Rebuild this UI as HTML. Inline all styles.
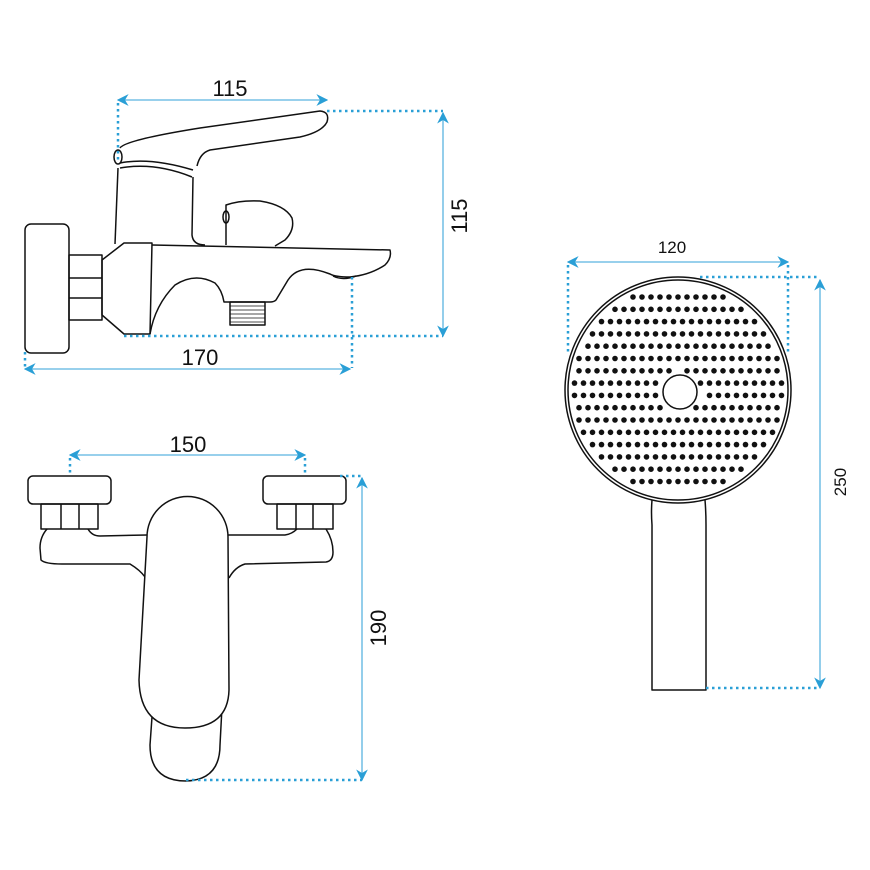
<!DOCTYPE html>
<html><head><meta charset="utf-8"><style>
html,body{margin:0;padding:0;background:#fff}
svg{display:block}
text{font-family:"Liberation Sans",sans-serif;fill:#111}
</style></head><body>
<svg id="s" width="870" height="870" viewBox="0 0 870 870" xmlns="http://www.w3.org/2000/svg">
<defs>
<marker id="a" viewBox="0 0 10 10" refX="9" refY="5" markerWidth="9" markerHeight="9" orient="auto-start-reverse"><path d="M0,0 L10,5 L0,10 L3,5 Z" fill="#2a9fd6"/></marker>
</defs>
<g fill="none" stroke="#111" stroke-width="1.5" stroke-linejoin="round">
<rect x="25" y="224" width="44" height="129" rx="6"/>
<rect x="69" y="255" width="33" height="65"/>
<line x1="69" y1="278" x2="102" y2="278"/><line x1="69" y1="298" x2="102" y2="298"/>
<path d="M102,260 L124,243 L152,243 L150,334 L124,334 L102,315 Z"/>
<path d="M152,245 L390,250 Q392,258 385,265 Q370,275 350,277 Q335,277 330,274 Q300,262 288,280 L276,300 Q274,302 270,302 L224,302 Q222,290 215,283 Q195,272 175,285 Q155,305 150,334"/>
<path d="M333,276 Q343,281 356,276"/>
<rect x="230" y="302" width="35" height="23"/>
<g stroke-width="0.8"><line x1="230" y1="306" x2="265" y2="306"/><line x1="230" y1="310" x2="265" y2="310"/><line x1="230" y1="314" x2="265" y2="314"/><line x1="230" y1="318" x2="265" y2="318"/><line x1="230" y1="322" x2="265" y2="322"/></g>
<path d="M118,168 L115,244"/>
<path d="M193,177 L192,235 Q193,245 205,245"/>
<path d="M120,163 Q150,157 193,170"/>
<path d="M120,168 Q155,162 192,177"/>
<path d="M120,148 Q125,140 200,128 L320,111 Q330,112 327,122 Q322,132 300,137 L210,150 Q200,153 197,166"/>
<ellipse cx="118" cy="157" rx="4" ry="7"/>
<path d="M226,245 L226,205 Q240,200 260,201 Q285,205 292,218 Q295,230 285,240 L275,246"/>
<ellipse cx="226" cy="217" rx="3" ry="6"/>

<rect x="28" y="476" width="83" height="28" rx="5"/>
<rect x="41" y="504" width="57" height="25"/>
<line x1="61" y1="504" x2="61" y2="529"/><line x1="79" y1="504" x2="79" y2="529"/>
<rect x="263" y="476" width="83" height="28" rx="5"/>
<rect x="277" y="504" width="56" height="25"/>
<line x1="296" y1="504" x2="296" y2="529"/><line x1="313" y1="504" x2="313" y2="529"/>
<path d="M47,529 Q40,537 40,548 L41,560 Q45,564 62,564 L130,564 Q140,570 145,577"/>
<path d="M88,529 Q92,536 100,536 L147,535"/>
<path d="M228,535 L285,535 Q292,534 297,529"/>
<path d="M326,529 Q333,540 333,552 Q333,561 326,562 L245,564 Q235,567 229,578"/>
<path d="M152,717 L150,745 Q150,781 186,781 Q220,780 220,745 L222,707"/>
<path d="M147,537 A40.5,40.5 0 0 1 228,537 L229,690 Q228,728 185,728 Q140,728 139,680 Z" fill="#fff"/>

<circle cx="678" cy="390" r="113"/>
<circle cx="678" cy="390" r="110"/>
<path d="M652,500 Q651,512 652,525 L652,690 L706,690 L706,525 Q706,512 705,500"/>
<circle cx="680" cy="392" r="17"/>
</g>
<g id="dots" fill="#111"></g>

<g stroke="#5ab4e0" stroke-width="1.3" fill="none">
<line x1="118" y1="100" x2="327" y2="100" marker-start="url(#a)" marker-end="url(#a)"/>
<line x1="443" y1="113" x2="443" y2="336" marker-start="url(#a)" marker-end="url(#a)"/>
<line x1="25" y1="369" x2="350" y2="369" marker-start="url(#a)" marker-end="url(#a)"/>
<line x1="70" y1="455" x2="305" y2="455" marker-start="url(#a)" marker-end="url(#a)"/>
<line x1="362" y1="478" x2="362" y2="780" marker-start="url(#a)" marker-end="url(#a)"/>
<line x1="568" y1="262" x2="788" y2="262" marker-start="url(#a)" marker-end="url(#a)"/>
<line x1="820" y1="280" x2="820" y2="688" marker-start="url(#a)" marker-end="url(#a)"/>
</g>
<g stroke="#2a9fd6" stroke-width="2.5" stroke-dasharray="2.5 3.5" fill="none">
<path d="M118,103 V160"/>
<path d="M327,111 H443"/>
<path d="M124,336 H443"/>
<path d="M25,352 V368"/>
<path d="M352,277 V368"/>
<path d="M70,458 V473"/>
<path d="M305,458 V473"/>
<path d="M340,476 H362"/>
<path d="M186,780 H362"/>
<path d="M568,265 V355"/>
<path d="M788,265 V355"/>
<path d="M700,277 H820"/>
<path d="M706,688 H820"/>
</g>
<text x="230" y="96" font-size="22" text-anchor="middle">115</text>
<text x="200" y="365" font-size="22" text-anchor="middle">170</text>
<text x="188" y="452" font-size="22" text-anchor="middle">150</text>
<text x="672" y="253" font-size="17" text-anchor="middle">120</text>
<text transform="translate(467,216) rotate(-90)" font-size="22" text-anchor="middle">115</text>
<text transform="translate(386,628) rotate(-90)" font-size="22" text-anchor="middle">190</text>
<text transform="translate(846,482) rotate(-90)" font-size="17" text-anchor="middle">250</text>
</svg>
<script>
var g=document.getElementById('dots'),cx=678,cy=390,h='';
for(var i=0;i<16;i++){var y=297+i*12.3;var dy=y-cy;var w=Math.sqrt(Math.max(0,104*104-dy*dy));
var n=Math.floor(2*w/9);var x0=cx-(n*9)/2;
for(var j=0;j<=n;j++){var x=x0+j*9;var ddx=x-680,ddy=y-392;if(ddx*ddx+ddy*ddy<22*22)continue;
h+='<circle cx="'+x.toFixed(1)+'" cy="'+y.toFixed(1)+'" r="2.8"/>';}}
g.innerHTML=h;
</script>
</body></html>
